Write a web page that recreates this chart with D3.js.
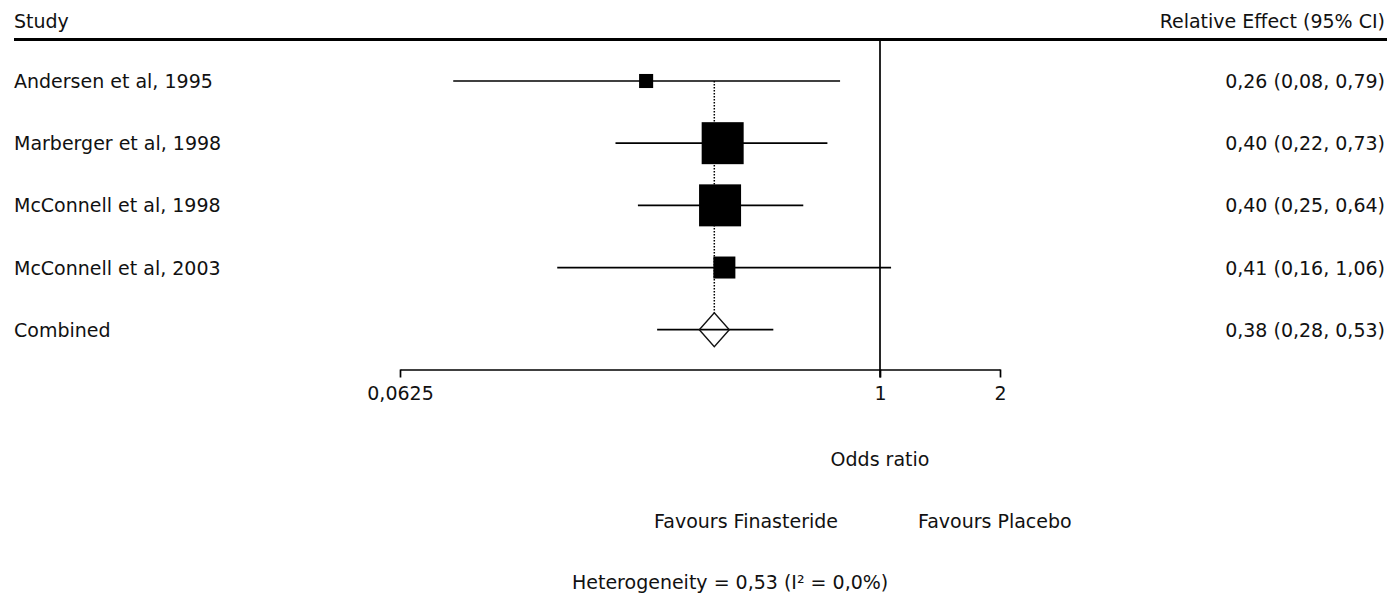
<!DOCTYPE html>
<html>
<head>
<meta charset="utf-8">
<script src="https://cdn.jsdelivr.net/npm/d3@7"></script>
<style>
  body { margin: 0; background: #fff; }
  svg text { font-family: "DejaVu Sans", Verdana, sans-serif; font-size: 19px; fill: #111; }
</style>
</head>
<body>
<svg class="chart"></svg>
<script>
// studies
var studies = ["Andersen et al, 1995", "Marberger et al, 1998", "McConnell et al, 1998", "McConnell et al, 2003"];
var oddsRatio = [0.259, 0.403, 0.397, 0.407];
var ciLow = [0.085, 0.217, 0.247, 0.155];
var ciHigh = [0.794, 0.738, 0.642, 1.066];
var weight = [4.7, 41.9, 41.9, 11.5];
var effectLabels = ["0,26 (0,08, 0,79)", "0,40 (0,22, 0,73)", "0,40 (0,25, 0,64)", "0,41 (0,16, 1,06)"];

// pooled estimate
var combined = { name: "Combined", or: 0.384, low: 0.276, high: 0.540, label: "0,38 (0,28, 0,53)" };

var tickValues = [0.0625, 1, 2];
var tickLabels = ["0,0625", "1", "2"];

var width = 1397;
var height = 593;

var svg = d3.select(".chart")
  .attr("width", width)
  .attr("height", height);

var rows = studies.concat([combined.name]);

var x = d3.scaleLog().base(2)
  .domain([0.0625, 2])
  .range([400, 1000]);

var y = d3.scalePoint()
  .domain(rows)
  .range([81, 329.7]);

var size = d3.scaleSqrt()
  .domain([0, 41.9])
  .range([0, 42]);

// header
svg.append("text").attr("x", 14).attr("y", 28).text("Study");
svg.append("text").attr("x", 1385).attr("y", 28).attr("text-anchor", "end").text("Relative Effect (95% CI)");
svg.append("line")
  .attr("x1", 14).attr("x2", 1387)
  .attr("y1", 39.5).attr("y2", 39.5)
  .attr("stroke", "#000").attr("stroke-width", 3);

var axisY = 369.5;

// line of no effect
svg.append("line")
  .attr("x1", x(1)).attr("x2", x(1))
  .attr("y1", 41).attr("y2", axisY + 8)
  .attr("stroke", "#000").attr("stroke-width", 1.7);

// axis
var axis = d3.axisBottom(x)
  .tickValues(tickValues)
  .tickFormat(function(d, i) { return tickLabels[i]; })
  .tickSize(8)
  .tickSizeOuter(0)
  .tickPadding(9);

var ax = svg.append("g")
  .attr("transform", "translate(0," + axisY + ")")
  .call(axis);
ax.select(".domain").attr("stroke", "#000").attr("stroke-width", 1.7);
ax.selectAll(".tick line").attr("stroke", "#000").attr("stroke-width", 1.7);
ax.selectAll(".tick text")
  .attr("fill", "#111")
  .style("font-family", "\"DejaVu Sans\", Verdana, sans-serif")
  .style("font-size", "19px");

// dotted line at the pooled estimate
svg.append("line")
  .attr("x1", x(combined.or)).attr("x2", x(combined.or))
  .attr("y1", y(studies[0])).attr("y2", y(combined.name) - 17)
  .attr("stroke", "#000").attr("stroke-width", 1.5)
  .attr("stroke-dasharray", "1.5,1.5");

// study rows
var g = svg.append("g");

studies.forEach(function(name, i) {
  var cy = y(name);
  g.append("text").attr("x", 14).attr("y", cy + 7).text(name);
  g.append("text").attr("x", 1385).attr("y", cy + 7).attr("text-anchor", "end").text(effectLabels[i]);

  g.append("line")
    .attr("x1", x(ciLow[i])).attr("x2", x(ciHigh[i]))
    .attr("y1", cy).attr("y2", cy)
    .attr("stroke", "#000").attr("stroke-width", 1.7);

  var s = size(weight[i]);
  g.append("rect")
    .attr("x", x(oddsRatio[i]) - s / 2)
    .attr("y", cy - s / 2)
    .attr("width", s).attr("height", s)
    .attr("fill", "#000");
});

// combined row
var cy = y(combined.name);
var cx = x(combined.or);
g.append("text").attr("x", 14).attr("y", cy + 7).text(combined.name);
g.append("text").attr("x", 1385).attr("y", cy + 7).attr("text-anchor", "end").text(combined.label);
g.append("line")
  .attr("x1", x(combined.low)).attr("x2", x(combined.high))
  .attr("y1", cy).attr("y2", cy)
  .attr("stroke", "#000").attr("stroke-width", 1.7);
g.append("path")
  .attr("d", "M" + (cx - 15) + "," + cy + "L" + cx + "," + (cy - 17) + "L" + (cx + 15) + "," + cy + "L" + cx + "," + (cy + 17) + "Z")
  .attr("fill", "none")
  .attr("stroke", "#111").attr("stroke-width", 1.4);

// bottom labels
svg.append("text").attr("x", x(1)).attr("y", 466).attr("text-anchor", "middle").text("Odds ratio");
svg.append("text").attr("x", x(1) - 42).attr("y", 528).attr("text-anchor", "end").text("Favours Finasteride");
svg.append("text").attr("x", x(1) + 38).attr("y", 528).text("Favours Placebo");
svg.append("text").attr("x", 572).attr("y", 589).text("Heterogeneity = 0,53 (I² = 0,0%)");
</script>
</body>
</html>
